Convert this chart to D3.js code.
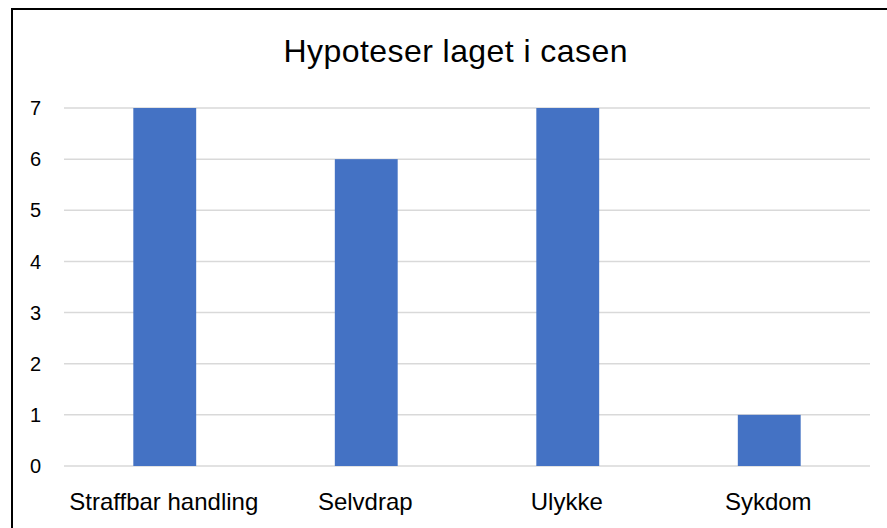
<!DOCTYPE html>
<html>
<head>
<meta charset="utf-8">
<script src="https://cdn.jsdelivr.net/npm/d3@7"></script>
<style>
  html, body { margin: 0; padding: 0; background: #fff; }
  svg { display: block; }
</style>
</head>
<body>
<svg id="chart" width="887" height="528"></svg>
<script>
const title = "Hypoteser laget i casen";
const categories = ["Straffbar handling", "Selvdrap", "Ulykke", "Sykdom"];
const values = [7, 6, 7, 1];
const yTicks = [0, 1, 2, 3, 4, 5, 6, 7];

const svg = d3.select("#chart");
const W = 887, H = 528;
const plot = { left: 64, right: 870, top: 108, bottom: 466 };
const font = "'Liberation Sans', Arial, sans-serif";

svg.append("rect").attr("width", W).attr("height", H).attr("fill", "#fff");

// outer border (partially cut off at the right and bottom)
svg.append("rect")
  .attr("x", 12).attr("y", 9).attr("width", 1000).attr("height", 700)
  .attr("fill", "none").attr("stroke", "#000").attr("stroke-width", 2);

const x = d3.scaleBand().domain(categories).range([plot.left, plot.right]).padding(0);
const y = d3.scaleLinear().domain([0, 7]).range([plot.bottom, plot.top]);

// gridlines
svg.append("g").selectAll("line").data(yTicks).join("line")
  .attr("x1", plot.left).attr("x2", plot.right)
  .attr("y1", d => y(d)).attr("y2", d => y(d))
  .attr("stroke", "#d9d9d9").attr("stroke-width", 1.5);

// y tick labels
svg.append("g").selectAll("text").data(yTicks).join("text")
  .attr("x", 41).attr("y", d => y(d)).attr("dy", "0.36em")
  .attr("text-anchor", "end")
  .attr("font-family", font).attr("font-size", 20).attr("fill", "#000")
  .text(d => d);

// bars
const barW = x.bandwidth() * 0.312;
svg.append("g").selectAll("rect").data(categories).join("rect")
  .attr("x", d => x(d) + (x.bandwidth() - barW) / 2)
  .attr("width", barW)
  .attr("y", (d, i) => y(values[i]))
  .attr("height", (d, i) => y(0) - y(values[i]))
  .attr("fill", "#4472c4");

// category labels
svg.append("g").selectAll("text").data(categories).join("text")
  .attr("x", d => x(d) + x.bandwidth() / 2 - 1)
  .attr("y", 510)
  .attr("text-anchor", "middle")
  .attr("font-family", font).attr("font-size", 24).attr("fill", "#000")
  .text(d => d);

// title
svg.append("text")
  .attr("x", 455.5).attr("y", 62)
  .attr("text-anchor", "middle")
  .attr("font-family", font).attr("font-size", 32).attr("fill", "#000")
  .attr("textLength", 344).attr("lengthAdjust", "spacing")
  .text(title);
</script>
</body>
</html>
